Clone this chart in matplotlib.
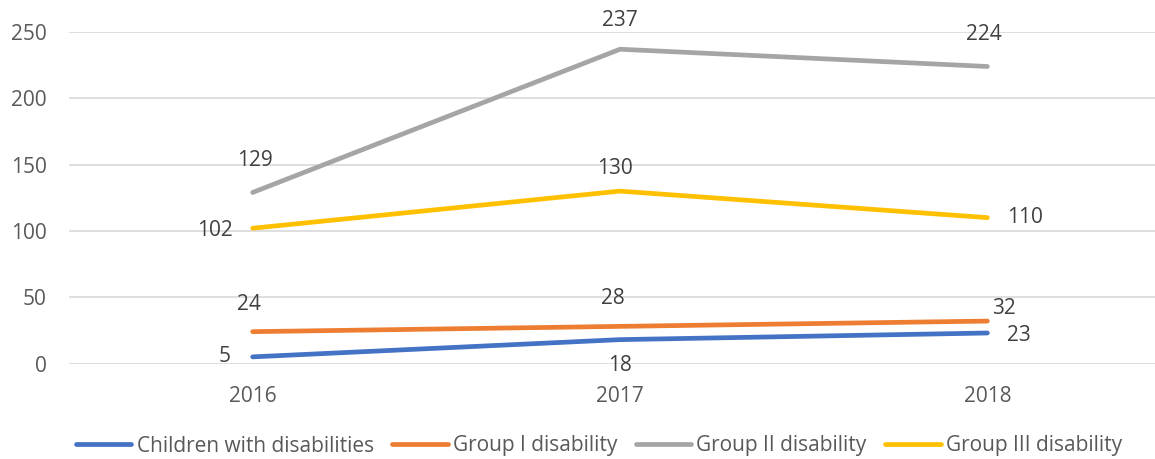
import matplotlib
matplotlib.use("Agg")
import matplotlib.pyplot as plt

plt.rcParams['font.family'] = ['Open Sans', 'DejaVu Sans']

years = ["2016", "2017", "2018"]
series_names = ["Children with disabilities", "Group I disability",
                "Group II disability", "Group III disability"]
children = [5, 18, 23]
group_1 = [24, 28, 32]
group_2 = [129, 237, 224]
group_3 = [102, 130, 110]

colors = ["#4472C4", "#ED7D31", "#A5A5A5", "#FFC000"]

# label offsets in pixels (dx, dy) per series / point
offsets = [
    [(-28, 0), (0, -26), (32, -2)],
    [(-4, 27), (-7, 28), (17, 13)],
    [(2, 32), (0, 29), (-3, 32)],
    [(-38, -2), (-5, 23), (38, 0)],
]

fs = 15

fig = plt.figure(figsize=(11.55, 4.59), dpi=100)
ax = fig.add_axes([69 / 1155, (459 - 363.5) / 459, 1102 / 1155, 331.5 / 459])

x = list(range(len(years)))
all_series = [children, group_1, group_2, group_3]
for i, vals in enumerate(all_series):
    ax.plot(x, vals, color=colors[i], lw=3.4, solid_capstyle='round',
            label=series_names[i], clip_on=False, zorder=3)
    for j, v in enumerate(vals):
        dx, dy = offsets[i][j]
        ax.annotate(str(v), (x[j], v), xytext=(dx / 1.389, dy / 1.389),
                    textcoords='offset points', ha='center', va='center',
                    fontsize=fs, color='#404040', annotation_clip=False)

ax.set_xlim(-0.5, 2.5)
ax.set_ylim(0, 250)
ax.set_yticks([0, 50, 100, 150, 200, 250])
ax.set_xticks(x)
ax.set_xticklabels(years)
ax.grid(axis='y', color='#d9d9d9', lw=1.2)
ax.set_axisbelow(True)
for s in ax.spines.values():
    s.set_visible(False)
ax.tick_params(length=0, labelsize=fs, labelcolor='#595959')
ax.tick_params(axis='y', pad=16)
ax.tick_params(axis='x', pad=16)

leg = fig.legend(loc='center', bbox_to_anchor=(599 / 1155, 1 - 446 / 459), ncol=4,
                 frameon=False, fontsize=fs, handlelength=2.65, columnspacing=0.9,
                 handletextpad=0.25, labelcolor='#595959')

fig.savefig("out.png", dpi=100)
